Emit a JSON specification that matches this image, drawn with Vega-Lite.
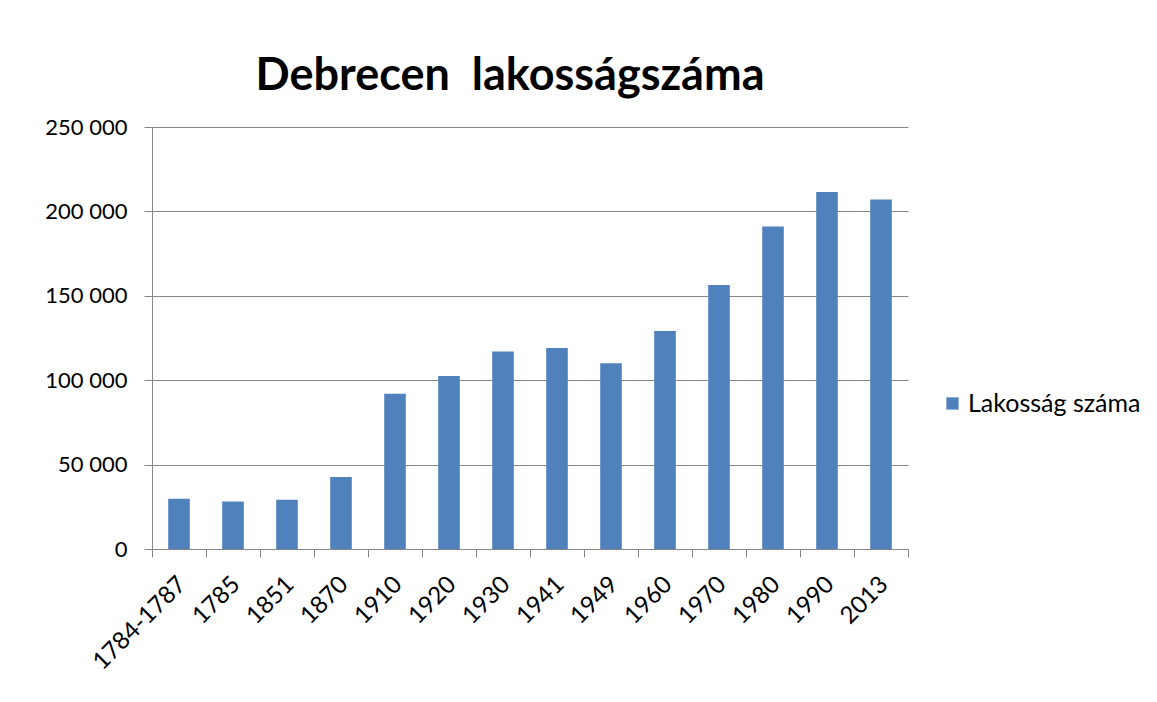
{
  "$schema": "https://vega.github.io/schema/vega-lite/v6.json",
  "autosize": "none",
  "width": 756,
  "height": 422,
  "padding": {"left": 152, "top": 127, "right": 249, "bottom": 153},
  "background": "white",
  "title": {
    "text": "Debrecen\u00a0\u00a0lakosságszáma",
    "font": "Lato",
    "fontSize": 45,
    "fontWeight": "bold",
    "color": "#000000",
    "anchor": "middle",
    "frame": "group",
    "dx": -20,
    "offset": 17
  },
  "data": {
    "values": [
      {"ev": "1784-1787", "lakossag": 29800},
      {"ev": "1785", "lakossag": 28200},
      {"ev": "1851", "lakossag": 29200},
      {"ev": "1870", "lakossag": 42600},
      {"ev": "1910", "lakossag": 92000},
      {"ev": "1920", "lakossag": 102500},
      {"ev": "1930", "lakossag": 117000},
      {"ev": "1941", "lakossag": 119100},
      {"ev": "1949", "lakossag": 110000},
      {"ev": "1960", "lakossag": 129100},
      {"ev": "1970", "lakossag": 156400},
      {"ev": "1980", "lakossag": 191000},
      {"ev": "1990", "lakossag": 211500},
      {"ev": "2013", "lakossag": 207000}
    ]
  },
  "mark": {"type": "bar", "width": {"band": 0.4}},
  "encoding": {
    "x": {
      "field": "ev",
      "type": "nominal",
      "sort": null,
      "scale": {"paddingInner": 0, "paddingOuter": 0},
      "axis": {
        "title": null,
        "labelAngle": -45,
        "labelFont": "Lato",
        "labelFontSize": 24,
        "labelColor": "#000000",
        "labelPadding": 15,
        "labelOffset": -5,
        "domainColor": "#868686",
        "tickColor": "#868686",
        "tickSize": 8,
        "bandPosition": 1,
        "tickExtra": true,
        "grid": false
      }
    },
    "y": {
      "field": "lakossag",
      "type": "quantitative",
      "scale": {"domain": [0, 250000], "nice": false},
      "axis": {
        "title": null,
        "values": [0, 50000, 100000, 150000, 200000, 250000],
        "labelExpr": "replace(format(datum.value, ','), ',', ' ')",
        "labelFont": "Lato",
        "labelFontSize": 22,
        "labelColor": "#000000",
        "labelPadding": 17,
        "domainColor": "#868686",
        "tickColor": "#868686",
        "tickSize": 8,
        "gridColor": "#868686",
        "gridOpacity": 1
      }
    },
    "color": {
      "datum": "Lakosság száma",
      "type": "nominal",
      "scale": {"range": ["#4F81BD"]},
      "legend": {
        "title": null,
        "orient": "none",
        "legendX": 788,
        "legendY": 264,
        "symbolType": "square",
        "symbolSize": 150,
        "symbolStrokeWidth": 0,
        "labelFont": "Lato",
        "labelFontSize": 25,
        "labelLimit": 400,
        "labelColor": "#000000",
        "labelOffset": 3
      }
    }
  },
  "config": {"view": {"stroke": null}}
}
